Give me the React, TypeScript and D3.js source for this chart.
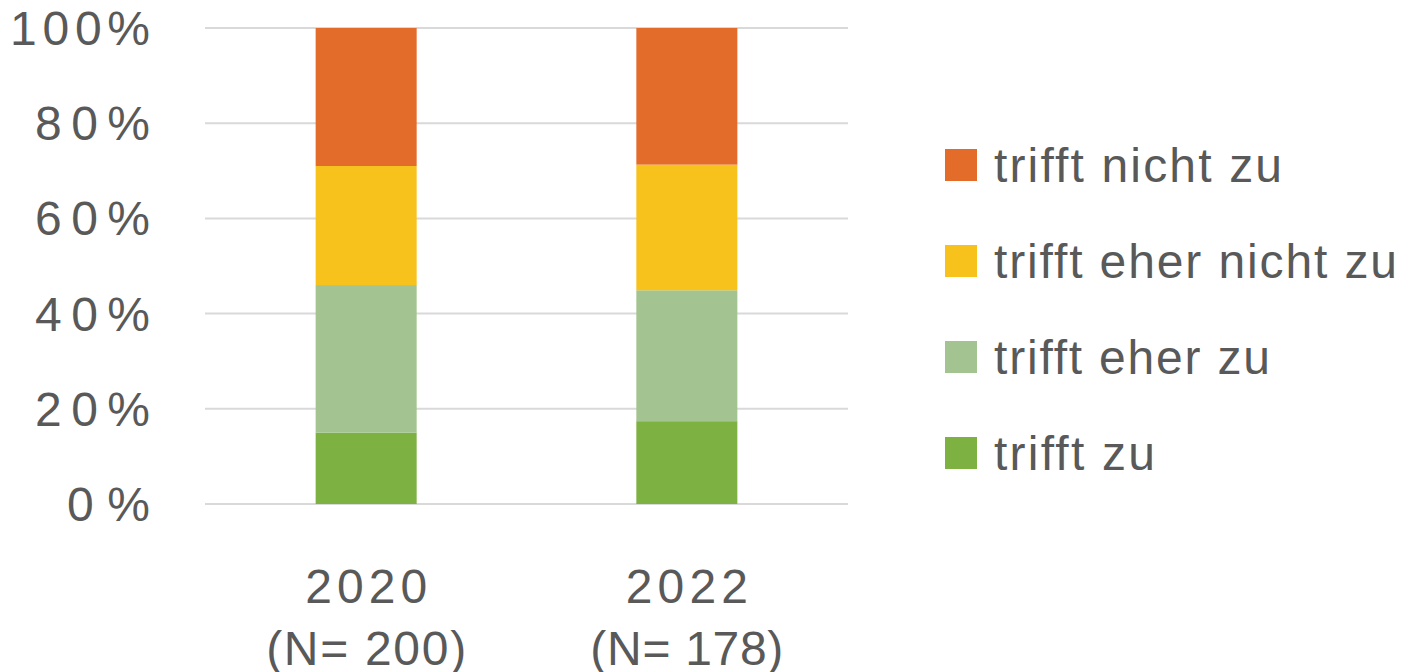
import React from "react";
import * as d3 from "d3";

const years = ["2020", "2022"];
const nLabels = ["(N= 200)", "(N= 178)"];
const seriesNames = ["trifft zu", "trifft eher zu", "trifft eher nicht zu", "trifft nicht zu"];
const trifftZu = [15, 17.4];
const trifftEherZu = [31, 27.5];
const trifftEherNichtZu = [25, 26.4];
const trifftNichtZu = [29, 28.7];
const yTicks = [0, 20, 40, 60, 80, 100];
const colors = ["#7DB142", "#A3C490", "#F6C21B", "#E46C2A"];

const legendWidths: Record<string, number> = {
  "trifft nicht zu": 288,
  "trifft eher nicht zu": 403,
  "trifft eher zu": 276,
  "trifft zu": 161,
};
const tickWidths: Record<string, number> = { "100%": 140, "80%": 115 };

const FONT = "'Liberation Sans', Arial, Helvetica, sans-serif";
const TEXT = "#595959";

export default function App() {
  const W = 1404, H = 672;
  const x = d3.scaleBand<string>().domain(years).range([205, 848]).paddingInner(0.685).paddingOuter(0.345);
  const y = d3.scaleLinear().domain([0, 100]).range([504, 28]);
  const seriesVals = [trifftZu, trifftEherZu, trifftEherNichtZu, trifftNichtZu];
  const rows = years.map((yr, i) => {
    const o: any = { year: yr };
    seriesNames.forEach((s, k) => (o[s] = seriesVals[k][i]));
    return o;
  });
  const stacked = d3.stack<any>().keys(seriesNames)(rows);
  const legendOrder = [...seriesNames].reverse();

  return (
    <svg width={W} height={H} style={{ position: "absolute", left: 0, top: 0, background: "#fff" }}>
      <rect width={W} height={H} fill="#fff" />
      {yTicks.map((t) => (
        <line key={t} x1={205} x2={848} y1={y(t)} y2={y(t)} stroke="#d9d9d9" strokeWidth={2} />
      ))}
      {stacked.map((layer, k) =>
        layer.map((d, i) => (
          <rect
            key={k + "-" + i}
            x={x(years[i])}
            width={x.bandwidth()}
            y={y(d[1])}
            height={y(d[0]) - y(d[1])}
            fill={colors[k]}
          />
        ))
      )}
      {yTicks.map((t) => {
        const label = t + "%";
        const tl = tickWidths[label] ?? (t === 0 ? 83 : 115);
        return (
          <text
            key={"t" + t}
            x={150}
            y={y(t) + 17}
            textAnchor="end"
            fontFamily={FONT}
            fontSize={48}
            fill={TEXT}
            textLength={tl}
            lengthAdjust="spacing"
          >
            {label}
          </text>
        );
      })}
      {years.map((yr, i) => {
        const cx = (x(yr) as number) + x.bandwidth() / 2;
        return (
          <g key={"x" + yr}>
            <text x={cx} y={603} textAnchor="middle" fontFamily={FONT} fontSize={48} fill={TEXT} textLength={122} lengthAdjust="spacing">
              {yr}
            </text>
            <text x={cx} y={665} textAnchor="middle" fontFamily={FONT} fontSize={48} fill={TEXT} textLength={i === 0 ? 200 : 193} lengthAdjust="spacing">
              {nLabels[i]}
            </text>
          </g>
        );
      })}
      {legendOrder.map((s, j) => {
        const k = seriesNames.indexOf(s);
        const top = 149 + j * 96;
        return (
          <g key={"l" + s}>
            <rect x={945} y={top} width={32} height={32} fill={colors[k]} />
            <text x={994} y={top + 33} fontFamily={FONT} fontSize={48} fill={TEXT} textLength={legendWidths[s]} lengthAdjust="spacing">
              {s}
            </text>
          </g>
        );
      })}
    </svg>
  );
}
